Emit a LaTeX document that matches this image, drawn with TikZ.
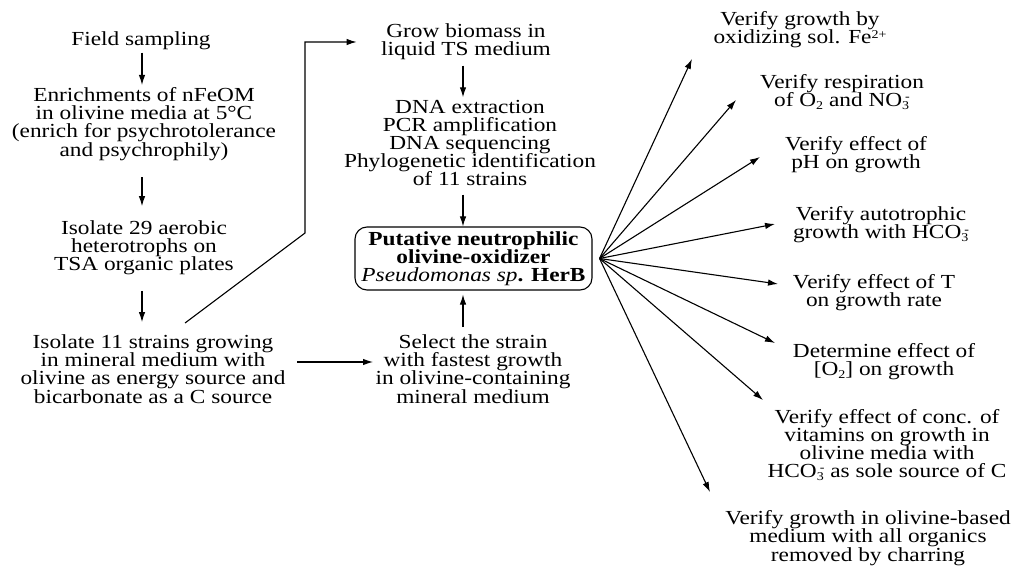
\documentclass[tikz,border=0pt]{standalone}
\usepackage{fontspec}
\setmainfont{Liberation Serif}[FakeStretch=1.17]
\usetikzlibrary{arrows.meta}
\newcommand\sbs[1]{\raisebox{-0.15em}{\fontsize{12}{12}\selectfont #1}}
\newcommand\sps[1]{\raisebox{0.3em}{\fontsize{12}{12}\selectfont #1}}
\newcommand\subsup[2]{\rlap{\sbs{#1}}\sps{\kern0.25em#2}}
\newcommand\tightlines{\lineskiplimit -30pt\relax}
\begin{document}
\begin{tikzpicture}[x=1bp,y=-1bp,line width=1.1bp,
  arr/.style={-{Latex[length=10bp,width=6.5bp]}},
  txt/.style={align=center,inner sep=2bp,font={\fontsize{20}{18.3}\selectfont\tightlines}},
  herb/.style={txt,draw,rounded corners=12bp,minimum width=237bp,minimum height=63bp,inner sep=0pt}]
\useasboundingbox (0,0) rectangle (1015,569);
% left column
\node[txt] (fs) at (141,41) {Field sampling};
\node[txt] (enr) at (144,124) {Enrichments of nFeOM\\in olivine media at 5°C\\(enrich for psychrotolerance\\and psychrophily)};
\node[txt] (i29) at (144,248) {Isolate 29 aerobic\\heterotrophs on\\TSA organic plates};
\node[txt] (i11) at (153,369) {Isolate 11 strains growing\\in mineral medium with\\olivine as energy source and\\bicarbonate as a C source};
% middle column
\node[txt] (grow) at (466,42) {Grow biomass in\\liquid TS medium};
\node[txt] (dna) at (470,143) {DNA extraction\\PCR amplification\\DNA sequencing\\Phylogenetic identification\\of 11 strains};
\node[herb] (box) at (473.5,258.5) {\textbf{Putative neutrophilic}\\\textbf{olivine-oxidizer}\\\textit{Pseudomonas sp}\textbf{. HerB}};
\node[txt] (sel) at (473,369) {Select the strain\\with fastest growth\\in olivine-containing\\mineral medium};
% right column
\node[txt] (t1) at (800,30) {Verify growth by\\oxidizing sol. Fe\sps{2+}};
\node[txt] (t2) at (842,92) {Verify respiration\\of O\sbs{2} and NO\subsup{3}{-}};
\node[txt] (t3) at (856,155) {Verify effect of\\pH on growth};
\node[txt] (t4) at (881,225) {Verify autotrophic\\growth with HCO\subsup{3}{-}};
\node[txt] (t5) at (874,293) {Verify effect of T\\on growth rate};
\node[txt] (t6) at (884,362) {Determine effect of\\{[O\sbs{2}]} on growth};
\node[txt] (t7) at (887,445) {Verify effect of conc. of\\vitamins on growth in\\olivine media with\\HCO\subsup{3}{-} as sole source of C};
\node[txt] (t8) at (868,538) {Verify growth in olivine-based\\medium with all organics\\removed by charring};
% helper coordinates
\coordinate (ax) at (463,0);
\coordinate (lx) at (142,0);
\coordinate (c1) at (185,323);
\coordinate (c2) at (305,233);
\coordinate (h1) at (297,362);
\coordinate (fan) at ([xshift=7bp]box.east);
\coordinate (e1) at (692,59);
\coordinate (e2) at (736,100);
\coordinate (e3) at (760,157);
\coordinate (e4) at (775,224);
\coordinate (e5) at (778,284);
\coordinate (e6) at (775,343);
\coordinate (e7) at (763,400);
\coordinate (e8) at (710,492);
% connectors
\draw[arr] (lx |- fs.south) -- (lx |- enr.north);
\draw[arr,shorten <=14bp,shorten >=12bp] (lx |- enr.south) -- (lx |- i29.north);
\draw[arr,shorten <=13bp,shorten >=10bp] (lx |- i29.south) -- (lx |- i11.north);
\draw[arr] (c1) -- (c2) |- ([xshift=-22bp]grow.west);
\draw[arr] (h1) -- (h1 -| sel.west);
\draw[arr,shorten <=3bp] (ax |- grow.south) -- (ax |- dna.north);
\draw[arr,shorten <=6bp] (ax |- dna.south) -- (ax |- box.north);
\draw[arr,shorten <=5bp,shorten >=4bp] (ax |- sel.north) -- (ax |- box.south);
\foreach \i in {1,...,8} \draw[arr] (fan) -- (e\i);
\end{tikzpicture}
\end{document}
